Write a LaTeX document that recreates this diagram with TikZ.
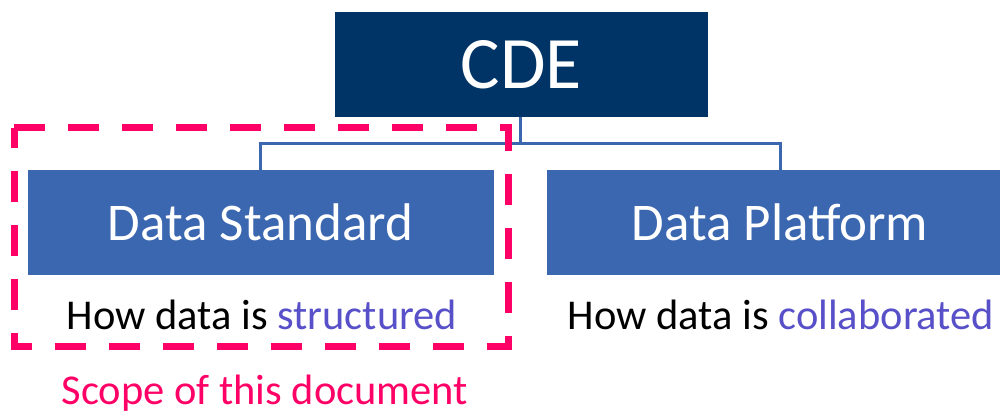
\documentclass[tikz,border=0pt]{standalone}
\usepackage{fontspec}
\setmainfont{Carlito}
\usetikzlibrary{positioning, calc}
\definecolor{cdeblue}{RGB}{0,52,102}
\definecolor{boxblue}{RGB}{59,103,177}
\definecolor{scopepink}{RGB}{255,0,102}
\definecolor{wordviolet}{RGB}{88,80,200}
\tikzset{
    topbox/.style={rectangle, fill=cdeblue, text=white, minimum width=373pt, minimum height=105pt, inner sep=0pt, font=\fontsize{74}{80}\selectfont},
    partbox/.style={rectangle, fill=boxblue, text=white, minimum width=466pt, minimum height=105pt, inner sep=0pt, font=\fontsize{53}{60}\selectfont},
    caption/.style={anchor=base, inner sep=0pt, font=\fontsize{42.5}{48}\selectfont},
    link/.style={draw=boxblue, line width=3pt},
    scopeframe/.style={draw=scopepink, line width=7pt, dash pattern=on 31pt off 23pt}
}

\begin{document}
\begin{tikzpicture}[x=1pt, y=-1pt]
        \useasboundingbox (0,0) rectangle (1000,414);
        \clip (0,0) rectangle (1000,414);
        \node[topbox] (cde) at (521.5,64.5) {CDE};
        \node[partbox] (std) at (260.5,222.5) {Data Standard};
        \node[partbox] (plat) at (780,222.5) {Data Platform};
        \node[caption] (stdtxt) at (262,329) {How data is \textcolor{wordviolet}{structured}};
        \node[caption] (plattxt) at (781,329) {How data is \textcolor{wordviolet}{collaborated}};
        % tree links
        \coordinate (bar) at (520,144);
        \draw[link] (cde.south -| bar) -- (bar) -| (std.north);
        \draw[link] (bar) -| (plat.north);
        % scope of this document
        \draw[scopeframe] (14,128) -- (508,128) -- (508,346) -- (14,346) -- cycle;
        \node[caption, text=scopepink] (scope) at (265,404) {Scope of this document};
    \end{tikzpicture}
\end{document}
